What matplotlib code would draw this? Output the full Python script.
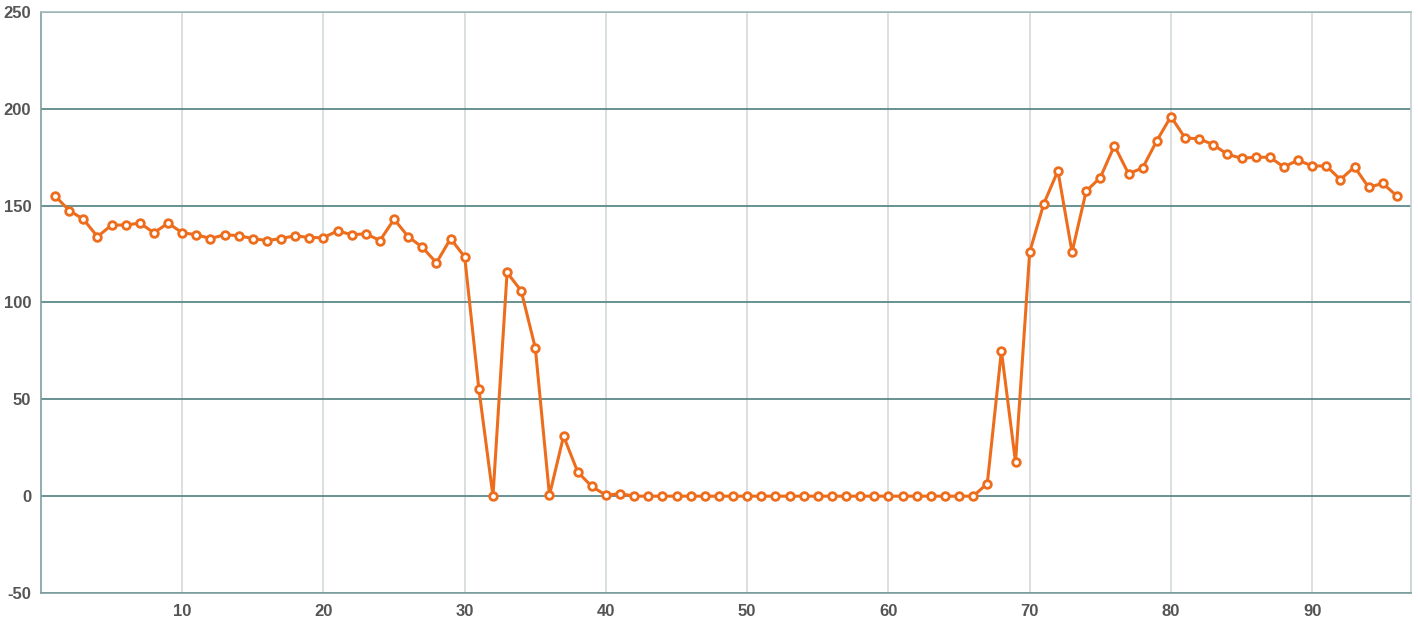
import matplotlib
matplotlib.use("Agg")
import matplotlib.pyplot as plt

plt.rcParams["axes.unicode_minus"] = False
plt.rcParams["font.family"] = ["Liberation Sans", "DejaVu Sans"]

x_vals = list(range(1, 97))
y_vals = [
    155, 147.5, 143, 134, 140, 140, 141, 136, 141, 136,
    135, 133, 135, 134.5, 133, 132, 133, 134.5, 133.5, 133.5,
    137, 135, 135.5, 132, 143, 134, 128.5, 120.5, 133, 123.5,
    55.5, 0, 115.5, 106, 76.5, 0.5, 31, 12.5, 5, 0.5,
    1.3, 0, 0, 0, 0, 0, 0, 0, 0, 0,
    0, 0, 0, 0, 0, 0, 0, 0, 0, 0,
    0, 0, 0, 0, 0, 0, 6.5, 75, 17.5, 126,
    151, 168, 126, 157.5, 164.5, 181, 166.5, 169.5, 183.5, 196,
    185, 184.5, 181.5, 176.5, 174.5, 175, 175, 170, 173.5, 170.5,
    170.5, 163.5, 170, 159.5, 161.5, 155,
]
x_ticks = [10, 20, 30, 40, 50, 60, 70, 80, 90]
y_ticks = [-50, 0, 50, 100, 150, 200, 250]

fig = plt.figure(figsize=(14.18, 6.38), dpi=100)
ax = fig.add_axes([41/1418, 45/638, 1370/1418, 581/638])

ax.set_xlim(0, 97)
ax.set_ylim(-50, 250)
ax.set_xticks(x_ticks)
ax.set_yticks(y_ticks)

for t in x_ticks:
    ax.axvline(t, color="#d3d9dc", lw=1.2, zorder=1)
for t in y_ticks:
    ax.axhline(t, color="#4f7f7f", lw=1.2, zorder=1)

ax.plot(x_vals, y_vals, color="#ee6d1c", lw=2.2, marker="o", markersize=5.5,
        markerfacecolor="white", markeredgecolor="#ee6d1c", markeredgewidth=2,
        zorder=3, solid_joinstyle="round")

for side in ["left", "bottom"]:
    ax.spines[side].set_color("#7f9f9f")
    ax.spines[side].set_linewidth(1.2)
ax.spines["top"].set_color("#a9bcbc")
ax.spines["top"].set_linewidth(1.2)
ax.spines["right"].set_color("#c6cfd2")
ax.spines["right"].set_linewidth(1.2)

ax.tick_params(axis="both", length=0, labelsize=12, labelcolor="#555555")
ax.tick_params(axis="x", pad=8)
ax.tick_params(axis="y", pad=7)
for lbl in ax.get_xticklabels() + ax.get_yticklabels():
    lbl.set_fontweight("bold")

fig.savefig("out.png", dpi=100, facecolor="white")
